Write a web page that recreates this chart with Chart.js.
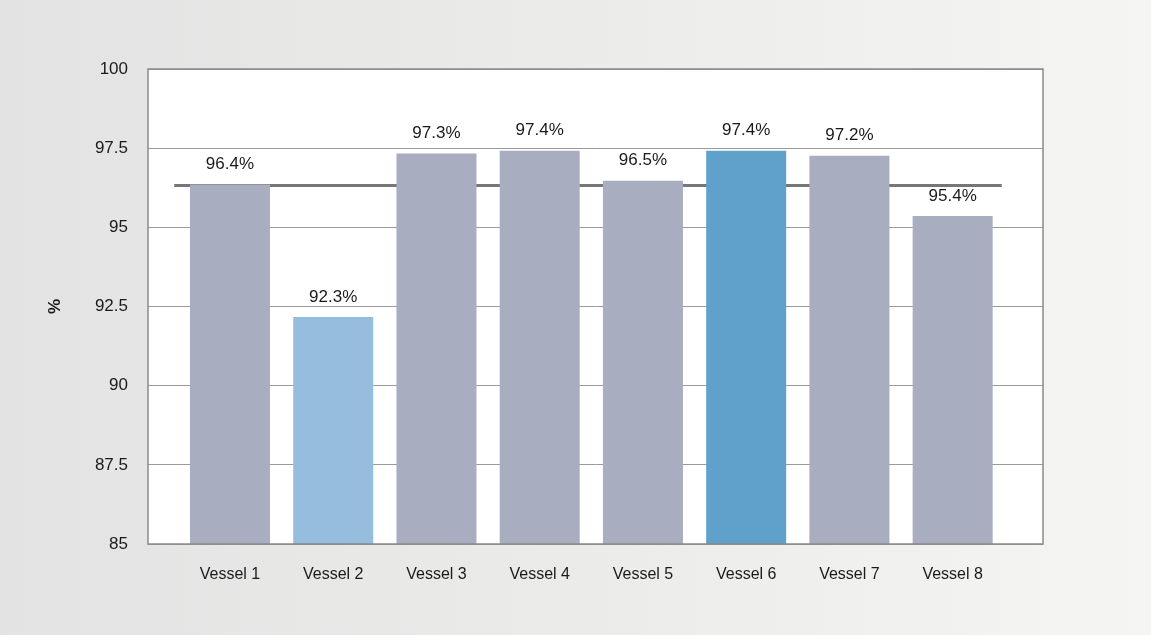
<!DOCTYPE html>
<html>
<head>
<meta charset="utf-8">
<script src="https://cdn.jsdelivr.net/npm/chart.js@4.4.1/dist/chart.umd.min.js"></script>
<style>
html,body{margin:0;padding:0;}
body{width:1151px;height:635px;background:linear-gradient(to right,#e3e3e3 0%,#ebebea 50%,#f5f5f4 100%);overflow:hidden;}
#wrap{position:relative;width:1151px;height:635px;}
</style>
</head>
<body>
<div id="wrap"><canvas id="c" width="1151" height="635"></canvas></div>
<script>
const categories = ['Vessel 1','Vessel 2','Vessel 3','Vessel 4','Vessel 5','Vessel 6','Vessel 7','Vessel 8'];
const barValues = [96.35, 92.17, 97.33, 97.42, 96.47, 97.42, 97.26, 95.36];
const valueLabels = ['96.4%','92.3%','97.3%','97.4%','96.5%','97.4%','97.2%','95.4%'];
const barColors = ['#a8aec0','#96bddd','#a8aec0','#a8aec0','#a8aec0','#5fa1cb','#a8aec0','#a8aec0'];
const averageValue = 96.32;
const averageSpan = [-0.54, 7.475];
const yTicks = [85, 87.5, 90, 92.5, 95, 97.5, 100];

const font = "'Liberation Sans', Arial, Helvetica, sans-serif";

const plotBg = {
  id: 'plotBg',
  beforeDraw(chart) {
    const {ctx, chartArea: a} = chart;
    ctx.save();
    ctx.fillStyle = '#ffffff';
    ctx.fillRect(a.left, a.top, a.right - a.left, a.bottom - a.top);
    ctx.restore();
  },
  afterDatasetsDraw(chart) {
    const {ctx, chartArea: a} = chart;
    ctx.save();
    ctx.strokeStyle = '#8a8a8a';
    ctx.lineWidth = 1.5;
    ctx.strokeRect(a.left, a.top, a.right - a.left, a.bottom - a.top);
    const meta = chart.getDatasetMeta(0);
    ctx.fillStyle = '#1a1a1a';
    ctx.font = '17px ' + font;
    ctx.textAlign = 'center';
    ctx.textBaseline = 'middle';
    meta.data.forEach((bar, i) => {
      ctx.fillText(valueLabels[i], bar.x, bar.y - 20);
    });
    ctx.restore();
  }
};

new Chart(document.getElementById('c'), {
  data: {
    datasets: [
      {
        type: 'bar',
        data: barValues.map((v, i) => ({x: i, y: v})),
        backgroundColor: barColors,
        borderWidth: 0,
        categoryPercentage: 1,
        barPercentage: 0.775,
        order: 1
      },
      {
        type: 'line',
        data: averageSpan.map(x => ({x: x, y: averageValue})),
        borderColor: '#767676',
        borderWidth: 3,
        pointRadius: 0,
        fill: false,
        order: 2
      }
    ]
  },
  options: {
    responsive: false,
    animation: false,
    devicePixelRatio: 1,
    layout: {padding: {left: 45, top: 69, right: 108, bottom: 30}},
    plugins: {legend: {display: false}, tooltip: {enabled: false}},
    scales: {
      x: {
        type: 'linear',
        offset: false,
        min: -0.794,
        max: 7.875,
        grid: {display: false, drawTicks: false, offset: false},
        border: {display: false},
        afterBuildTicks(scale) { scale.ticks = categories.map((c, i) => ({value: i})); },
        afterFit(scale) { scale.height = 61; },
        ticks: {
          autoSkip: false,
          maxRotation: 0,
          padding: 21,
          color: '#1a1a1a',
          font: {family: font, size: 16},
          callback: (v) => categories[v]
        }
      },
      y: {
        min: 85,
        max: 100,
        afterBuildTicks(scale) { scale.ticks = yTicks.map(v => ({value: v})); },
        afterFit(scale) { scale.width = 103; },
        grid: {color: '#9a9a9a', lineWidth: 1, drawTicks: false},
        border: {display: false},
        ticks: {
          padding: 20,
          color: '#1a1a1a',
          font: {family: font, size: 17},
          callback: (v) => String(v)
        },
        title: {
          display: true,
          text: '%',
          color: '#1a1a1a',
          padding: 0,
          font: {family: font, size: 17, weight: 'bold'}
        }
      }
    }
  },
  plugins: [plotBg]
});
</script>
</body>
</html>
